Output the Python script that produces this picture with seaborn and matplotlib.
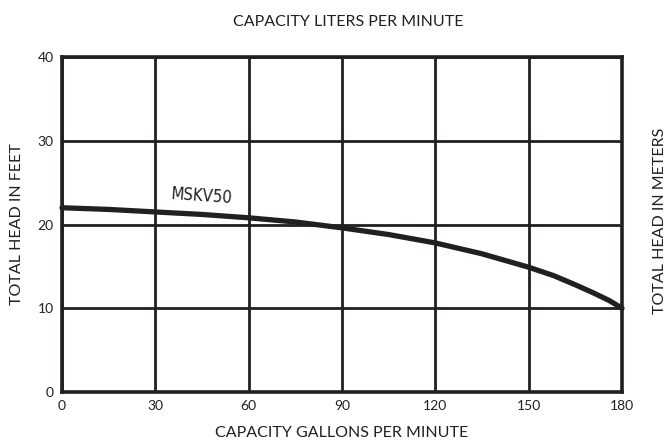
import matplotlib
matplotlib.use("Agg")
import matplotlib.pyplot as plt
import seaborn as sns
import pandas as pd

# pump curve
gpm = [0, 15, 30, 45, 60, 75, 90, 105, 120, 135, 150, 158, 165, 171, 176, 180]
head_ft = [22.0, 21.8, 21.5, 21.2, 20.8, 20.3, 19.6, 18.8, 17.8, 16.5, 14.9, 13.9, 12.8, 11.8, 10.9, 10.0]
x_ticks = [0, 30, 60, 90, 120, 150, 180]
y_ticks = [0, 10, 20, 30, 40]
model = "MSKV50"

ink = "#231f20"
sns.set_style("white")
plt.rcParams['font.family'] = ['Lato', 'DejaVu Sans']

df = pd.DataFrame({'gpm': gpm, 'head': head_ft})

fig = plt.figure(figsize=(6.7, 4.42), dpi=100)
ax = fig.add_axes([62/670, 50/442, 560/670, 335/442])

ax.set_xlim(0, 180)
ax.set_ylim(0, 40)
ax.set_xticks(x_ticks)
ax.set_yticks(y_ticks)
ax.grid(True, color=ink, linewidth=2.0)
ax.set_axisbelow(True)
for s in ax.spines.values():
    s.set_color(ink)
    s.set_linewidth(2.6)
ax.tick_params(length=0, labelsize=10, colors=ink, pad=6)

sns.lineplot(data=df, x='gpm', y='head', ax=ax, color=ink, linewidth=3.8,
             solid_capstyle='round', solid_joinstyle='round', clip_on=False, zorder=5)

ax.text(45, 23.4, model, ha='center', va='center', rotation=-4,
        fontsize=12, color=ink, fontstretch='condensed',
        family=['Liberation Sans Narrow', 'DejaVu Sans'])

ax.set_xlabel("CAPACITY GALLONS PER MINUTE", fontsize=11.5, color=ink, labelpad=10)
ax.set_ylabel("TOTAL HEAD IN FEET", fontsize=11.5, color=ink, labelpad=10)
fig.text(0.52, 0.95, "CAPACITY LITERS PER MINUTE", ha='center', va='center',
         fontsize=11.5, color=ink)
fig.text(0.985, 0.5, "TOTAL HEAD IN METERS", ha='center', va='center',
         rotation=90, fontsize=11.5, color=ink)

fig.savefig("out.png", dpi=100)
